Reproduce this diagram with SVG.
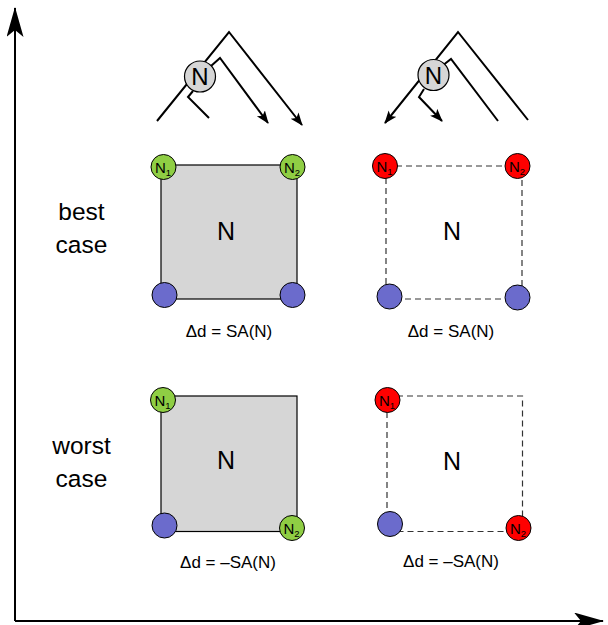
<svg xmlns="http://www.w3.org/2000/svg" width="608" height="625" viewBox="0 0 608 625">
<defs>
<marker id="axh" markerUnits="userSpaceOnUse" markerWidth="32" markerHeight="18" refX="29" refY="8.5" orient="auto">
<path d="M0,0 L30,8.5 L0,17 L7,8.5 z" fill="#000"/>
</marker>
<marker id="ah" markerUnits="userSpaceOnUse" markerWidth="14" markerHeight="12" refX="12" refY="5" orient="auto">
<path d="M0,0 L13,5 L0,10 L3,5 z" fill="#000"/>
</marker>
<style>
text{font-family:"Liberation Sans",Arial,sans-serif;fill:#000}
.big{font-size:25px;text-anchor:middle}
.side{font-size:24.5px;text-anchor:middle}
.lab{font-size:17px;text-anchor:middle}
.cn{font-size:15px}
.sub{font-size:9.5px}
.line{fill:none;stroke:#000;stroke-width:2}
.gbox{fill:#d6d6d6;stroke:#000;stroke-width:1.2}
.dbox{fill:none;stroke:#333;stroke-width:1.2;stroke-dasharray:6,4}
.g{fill:#8fce44;stroke:#000;stroke-width:1}
.r{fill:#ff0000;stroke:#000;stroke-width:1}
.b{fill:#6b6bcc;stroke:#000;stroke-width:1}
.tn{fill:#d6d6d6;stroke:#000;stroke-width:1.2}
</style>
</defs>
<g id="axes">
<path class="line" d="M15,621 L15,8" marker-end="url(#axh)"/>
<path class="line" d="M15,621 L603,621" marker-end="url(#axh)"/>
</g>
<g id="connectors">
<polyline class="line" points="157,121 229,32 302,125" marker-end="url(#ah)"/>
<polyline class="line" points="211,66 220,58 268,123" marker-end="url(#ah)"/>
<polyline class="line" points="193,91 188,97 209,118"/>
<polyline class="line" points="528,120 458,32 385,123" marker-end="url(#ah)"/>
<polyline class="line" points="498,121 451,59 442,66"/>
<polyline class="line" points="424,89 419,97 442,121" marker-end="url(#ah)"/>
</g>
<g id="tree-node-1">
<circle class="tn" cx="200" cy="76.5" r="15.5"/>
<text class="big" x="200" y="85" style="font-size:24px">N</text>
</g>
<g id="tree-node-2">
<circle class="tn" cx="433.5" cy="75" r="15.5"/>
<text class="big" x="433.5" y="83.5" style="font-size:24px">N</text>
</g>
<g id="label-best">
<text class="side" x="81.5" y="219.5">best</text>
<text class="side" x="81.5" y="252.5">case</text>
</g>
<g id="label-worst">
<text class="side" x="81.5" y="453.5">worst</text>
<text class="side" x="81.5" y="486.5">case</text>
</g>
<g id="box-best-left">
<rect class="gbox" x="161" y="165" width="136" height="134"/>
<text class="big" x="226" y="240">N</text>
<circle class="b" cx="164.5" cy="295" r="12.5"/>
<circle class="b" cx="292.5" cy="295" r="12.5"/>
<circle class="g" cx="163.5" cy="167" r="12.5"/>
<text class="cn" x="155" y="172.5">N<tspan class="sub" dy="3">1</tspan></text>
<circle class="g" cx="292.5" cy="167" r="12.5"/>
<text class="cn" x="284" y="172.5">N<tspan class="sub" dy="3">2</tspan></text>
<text class="lab" x="229" y="336.5">Δd = SA(N)</text>
</g>
<g id="box-best-right">
<rect class="dbox" x="386" y="166" width="136" height="133"/>
<text class="big" x="452" y="240">N</text>
<circle class="b" cx="389.5" cy="296.5" r="12.5"/>
<circle class="b" cx="517.5" cy="297.5" r="12.5"/>
<circle class="r" cx="385" cy="166" r="12.5"/>
<text class="cn" x="376.5" y="171.5">N<tspan class="sub" dy="3">1</tspan></text>
<circle class="r" cx="517.5" cy="166" r="12.5"/>
<text class="cn" x="509" y="171.5">N<tspan class="sub" dy="3">2</tspan></text>
<text class="lab" x="451" y="336.5">Δd = SA(N)</text>
</g>
<g id="box-worst-left">
<rect class="gbox" x="161" y="396" width="136" height="135.5"/>
<text class="big" x="226" y="469">N</text>
<circle class="b" cx="164.5" cy="525.5" r="12.5"/>
<circle class="g" cx="163" cy="400" r="12.5"/>
<text class="cn" x="154.5" y="405.5">N<tspan class="sub" dy="3">1</tspan></text>
<circle class="g" cx="292" cy="528" r="12.5"/>
<text class="cn" x="283.5" y="533.5">N<tspan class="sub" dy="3">2</tspan></text>
<text class="lab" x="228" y="567.5">Δd = –SA(N)</text>
</g>
<g id="box-worst-right">
<rect class="dbox" x="387" y="396" width="135.5" height="135.5"/>
<text class="big" x="452" y="470">N</text>
<circle class="b" cx="390" cy="524" r="12.5"/>
<circle class="r" cx="387.5" cy="400" r="12.5"/>
<text class="cn" x="379" y="405.5">N<tspan class="sub" dy="3">1</tspan></text>
<circle class="r" cx="518.5" cy="528" r="12.5"/>
<text class="cn" x="510" y="533.5">N<tspan class="sub" dy="3">2</tspan></text>
<text class="lab" x="451" y="566.5">Δd = –SA(N)</text>
</g>
</svg>
